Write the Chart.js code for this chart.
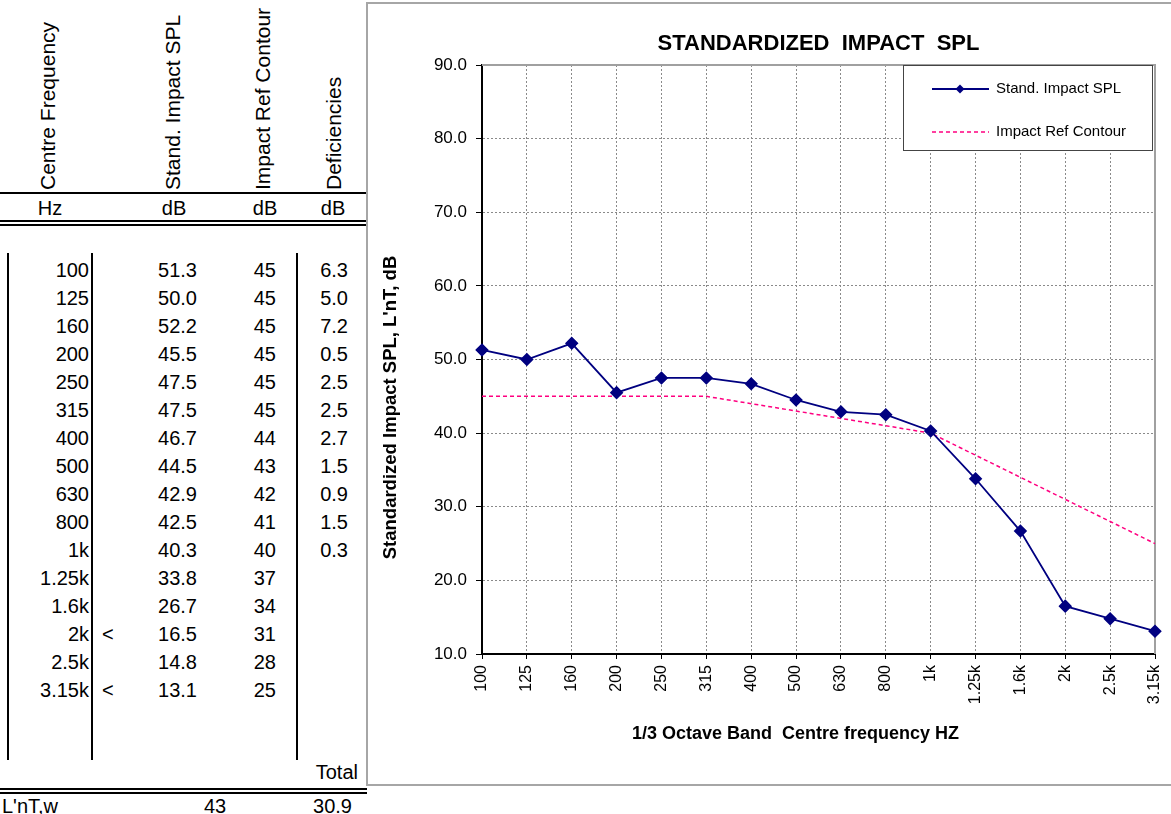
<!DOCTYPE html>
<html>
<head>
<meta charset="utf-8">
<script src="https://cdn.jsdelivr.net/npm/chart.js@4.4.1/dist/chart.umd.min.js"></script>
<style>
  body { margin: 0; width: 1171px; height: 814px; overflow: hidden; background: #fff;
         font-family: "Liberation Sans", Arial, sans-serif; color: #000; position: relative; }
  .t { position: absolute; white-space: nowrap; font-size: 20px; line-height: 24px; }
  .hd { position: absolute; white-space: nowrap; font-size: 21px; line-height: 24px;
        transform-origin: 0 0; transform: rotate(-90deg); }
  .ln { position: absolute; background: #000; }
  #box { position: absolute; left: 366px; top: 2px; width: 830px; height: 780px; border: 2px solid #a6a6a6; }
  #wrap { position: absolute; left: 369px; top: 5px; width: 802px; height: 779px; }
</style>
</head>
<body>
<div id="table"></div>
<div id="box"></div>
<div id="wrap"><canvas id="splChart"></canvas></div>
<script>
// Data read from the sheet
const freqLabels = ['100', '125', '160', '200', '250', '315', '400', '500', '630', '800', '1k', '1.25k', '1.6k', '2k', '2.5k', '3.15k'];
const splValues = [51.3, 50.0, 52.2, 45.5, 47.5, 47.5, 46.7, 44.5, 42.9, 42.5, 40.3, 33.8, 26.7, 16.5, 14.8, 13.1];
const refContour = [45, 45, 45, 45, 45, 45, 44, 43, 42, 41, 40, 37, 34, 31, 28, 25];
const deficiencies = [6.3, 5.0, 7.2, 0.5, 2.5, 2.5, 2.7, 1.5, 0.9, 1.5, 0.3];
const belowFlags = ['', '', '', '', '', '', '', '', '', '', '', '', '', '<', '', '<'];
const headers = ['Centre Frequency', 'Stand. Impact SPL', 'Impact Ref Contour', 'Deficiencies'];
const units = ['Hz', 'dB', 'dB', 'dB'];
const ratingLabel = "L'nT,w";
const ratingValue = 43;
const totalDeficiency = 30.9;

// ---- left-hand table ----
const table = document.getElementById('table');

function put(text, x, y, align, cls) {
  const d = document.createElement('div');
  d.className = cls || 't';
  d.textContent = text;
  d.style.top = (y - 12) + 'px';
  if (align === 'r') { d.style.left = (x - 200) + 'px'; d.style.width = '200px'; d.style.textAlign = 'right'; }
  else if (align === 'c') { d.style.left = (x - 100) + 'px'; d.style.width = '200px'; d.style.textAlign = 'center'; }
  else d.style.left = x + 'px';
  table.appendChild(d);
}
function line(x, y, w, h) {
  const d = document.createElement('div');
  d.className = 'ln';
  d.style.left = x + 'px'; d.style.top = y + 'px';
  d.style.width = w + 'px'; d.style.height = h + 'px';
  table.appendChild(d);
}

const headerLeft = [36, 161, 251, 322];
headers.forEach((h, i) => {
  const d = document.createElement('div');
  d.className = 'hd';
  d.textContent = h;
  d.style.left = headerLeft[i] + 'px';
  d.style.top = '190px';
  table.appendChild(d);
});

line(0, 192, 367, 2);
const unitX = [50, 174, 265, 333];
units.forEach((u, i) => put(u, unitX[i], 208, 'c'));
line(0, 220, 367, 2);
line(0, 224, 367, 2);

freqLabels.forEach((f, i) => {
  const y = 270 + i * 28;
  put(f, 89, y, 'r');
  if (belowFlags[i]) put(belowFlags[i], 102, y, 'l');
  put(splValues[i].toFixed(1), 197, y, 'r');
  put(String(refContour[i]), 276, y, 'r');
  if (i < deficiencies.length) put(deficiencies[i].toFixed(1), 348, y, 'r');
});

line(7, 253, 2, 507);
line(91, 253, 2, 507);
line(296, 253, 2, 507);

put('Total', 358, 772, 'r');
line(0, 788, 367, 2);
line(0, 792, 367, 2);
put(ratingLabel, 2, 806, 'l');
put(String(ratingValue), 215, 806, 'c');
put(totalDeficiency.toFixed(1), 352, 806, 'r');

// ---- chart ----
Chart.defaults.font.family = '"Liberation Sans", Arial, sans-serif';
Chart.defaults.color = '#000';

const navy = '#000080';
const pink = '#ff0080';

function diamond(ctx, x, y, r) {
  ctx.beginPath();
  ctx.moveTo(x, y - r); ctx.lineTo(x + r, y); ctx.lineTo(x, y + r); ctx.lineTo(x - r, y);
  ctx.closePath();
  ctx.fill();
}

const overlay = {
  id: 'overlay',
  beforeDatasetsDraw(chart) {
    const { ctx, chartArea: a } = chart;
    ctx.save();
    ctx.strokeStyle = '#a0a0a0';
    ctx.lineWidth = 2;
    ctx.beginPath();
    ctx.moveTo(a.left, a.top); ctx.lineTo(a.right, a.top); ctx.lineTo(a.right, a.bottom);
    ctx.stroke();
    ctx.restore();
  },
  afterDraw(chart) {
    const { ctx, chartArea: a } = chart;
    const cx = (a.left + a.right) / 2;
    const cy = (a.top + a.bottom) / 2;
    ctx.save();
    ctx.fillStyle = '#000';
    ctx.textAlign = 'center';
    ctx.textBaseline = 'middle';
    ctx.font = 'bold 22px "Liberation Sans", Arial, sans-serif';
    ctx.fillText('STANDARDIZED  IMPACT  SPL', cx, a.top - 21);
    ctx.font = 'bold 18px "Liberation Sans", Arial, sans-serif';
    ctx.fillText('1/3 Octave Band  Centre frequency HZ', cx - 23, a.bottom + 80);
    ctx.save();
    ctx.translate(a.left - 91, cy + 48);
    ctx.rotate(-Math.PI / 2);
    ctx.font = 'bold 18.5px "Liberation Sans", Arial, sans-serif';
    ctx.fillText("Standardized Impact SPL, L'nT, dB", 0, 0);
    ctx.restore();

    // legend box inside the plot
    const lx = a.right - 252, ly = a.top, lw = 249, lh = 85;
    ctx.fillStyle = '#fff';
    ctx.fillRect(lx, ly, lw, lh);
    ctx.strokeStyle = '#444';
    ctx.lineWidth = 1;
    ctx.strokeRect(lx + 0.5, ly + 0.5, lw, lh);
    const rows = [
      { label: 'Stand. Impact SPL', color: navy, dash: [], width: 2, marker: true },
      { label: 'Impact Ref Contour', color: pink, dash: [4, 3], width: 1.5, marker: false }
    ];
    rows.forEach((r, i) => {
      const y = ly + 24 + i * 43;
      ctx.strokeStyle = r.color;
      ctx.lineWidth = r.width;
      ctx.setLineDash(r.dash);
      ctx.beginPath(); ctx.moveTo(lx + 29, y); ctx.lineTo(lx + 86, y); ctx.stroke();
      ctx.setLineDash([]);
      if (r.marker) { ctx.fillStyle = r.color; diamond(ctx, lx + 57, y, 4.5); }
      ctx.fillStyle = '#000';
      ctx.textAlign = 'left';
      ctx.font = '15px "Liberation Sans", Arial, sans-serif';
      ctx.fillText(r.label, lx + 93, y);
    });
    ctx.restore();
  }
};

const ctx = document.getElementById('splChart').getContext('2d');
new Chart(ctx, {
  type: 'line',
  data: {
    labels: freqLabels,
    datasets: [
      {
        label: 'Stand. Impact SPL',
        data: splValues,
        borderColor: navy,
        backgroundColor: navy,
        borderWidth: 1.8,
        pointStyle: 'rectRot',
        pointRadius: 5.5,
        pointHoverRadius: 5.5,
        tension: 0
      },
      {
        label: 'Impact Ref Contour',
        data: refContour,
        borderColor: pink,
        backgroundColor: pink,
        borderWidth: 1.5,
        borderDash: [4, 3],
        pointRadius: 0,
        tension: 0
      }
    ]
  },
  options: {
    responsive: true,
    maintainAspectRatio: false,
    animation: false,
    events: [],
    layout: { padding: { left: 53, top: 60, right: 16, bottom: 70 } },
    plugins: {
      legend: { display: false },
      title: { display: false },
      tooltip: { enabled: false }
    },
    scales: {
      x: {
        offset: false,
        afterFit(scale) { scale.height = 60; scale.paddingLeft = 0; scale.paddingRight = 0; },
        grid: { color: '#8a8a8a', lineWidth: 1, tickLength: 5, tickColor: '#000', tickWidth: 1 },
        border: { color: '#000', width: 2, dash: [2, 2] },
        ticks: { minRotation: 90, maxRotation: 90, autoSkip: false, padding: 6, font: { size: 16 } }
      },
      y: {
        min: 10,
        max: 90,
        afterFit(scale) { scale.width = 60; },
        grid: { color: '#8a8a8a', lineWidth: 1, tickLength: 6, tickColor: '#000', tickWidth: 1 },
        border: { color: '#000', width: 2, dash: [2, 2] },
        ticks: { stepSize: 10, padding: 9, font: { size: 17 }, callback: v => v.toFixed(1) }
      }
    }
  },
  plugins: [overlay]
});
</script>
</body>
</html>
